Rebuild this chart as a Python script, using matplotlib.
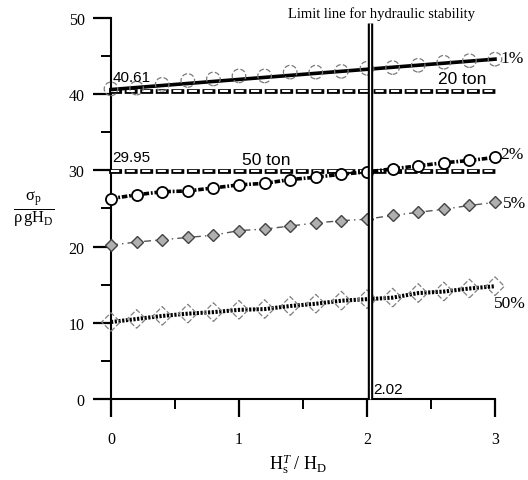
import matplotlib
matplotlib.use("Agg")
import matplotlib.pyplot as plt
import numpy as np

# ---------------- data ----------------
x_pts = [0.0, 0.2, 0.4, 0.6, 0.8, 1.0, 1.2, 1.4, 1.6, 1.8, 2.0, 2.2, 2.4, 2.6, 2.8, 3.0]
p1_pts = [40.7, 40.8, 41.3, 41.8, 42.0, 42.4, 42.4, 42.9, 42.9, 43.0, 43.4, 43.5, 43.8, 44.2, 44.4, 44.6]
p1_line_x = [0.0, 3.0]
p1_line_y = [40.61, 44.6]
p2_pts = [26.3, 26.8, 27.2, 27.3, 27.7, 28.1, 28.3, 28.8, 29.1, 29.5, 29.8, 30.2, 30.6, 31.0, 31.3, 31.7]
p5_pts = [20.2, 20.6, 20.9, 21.2, 21.5, 22.1, 22.3, 22.7, 23.1, 23.4, 23.6, 24.1, 24.5, 24.9, 25.4, 25.8]
p50_pts = [10.1, 10.5, 10.9, 11.2, 11.4, 11.7, 11.8, 12.2, 12.5, 12.9, 13.1, 13.3, 13.9, 14.1, 14.5, 14.8]
ton_x = [0.0, 3.0]
ton20_y = [40.45, 40.45]
ton50_y = [29.95, 29.95]
limit_x = [2.02, 2.02]
limit_y = [0.0, 49.3]

xticks = [0, 1, 2, 3]
xminor = [0.5, 1.5, 2.5]
yticks = [0, 10, 20, 30, 40, 50]
yminor = [5, 15, 25, 35, 45]

SERIF = "Liberation Serif"
SANS = "Liberation Sans"
plt.rcParams["mathtext.fontset"] = "custom"
plt.rcParams["mathtext.rm"] = SERIF
plt.rcParams["mathtext.it"] = SERIF + ":italic"
plt.rcParams["mathtext.bf"] = SERIF + ":bold"
plt.rcParams["lines.scale_dashes"] = False

fig = plt.figure(figsize=(5.28, 4.81), dpi=100)
ax = fig.add_axes([0.2102, 0.1684, 0.7273, 0.7921])
ax.set_xlim(0, 3)
ax.set_ylim(0, 50)

# tonnage dashed (outlined dashes)
dash = (0, (5.9, 5.3))
for yy in (ton20_y, ton50_y):
    ax.plot(ton_x, yy, color="black", lw=3.4, linestyle=dash,
            dash_capstyle="projecting", clip_on=False, zorder=3)
    ax.plot(ton_x, yy, color="white", lw=1.5, linestyle=dash,
            dash_capstyle="butt", clip_on=False, zorder=3.1)

# 1% line + dashed circles
ax.plot(p1_line_x, p1_line_y, color="black", lw=2.6, zorder=4, clip_on=False)
ax.scatter(x_pts, p1_pts, s=95, facecolors="none", edgecolors="#7a7a7a",
           linewidths=0.9, linestyles="--", zorder=5, clip_on=False)

# 2% line
ax.plot(x_pts, p2_pts, color="black", lw=2.6, linestyle=(0, (4.0, 1.3, 1.3, 1.3)),
        marker="o", ms=8, mfc="white", mec="black", mew=1.3,
        zorder=4, clip_on=False)

# 5% line
ax.plot(x_pts, p5_pts, color="#555555", lw=1.0, linestyle=(0, (5, 3, 1, 3)),
        marker="D", ms=6.5, mfc="#b0b0b0", mec="#444444", mew=1.0,
        zorder=4, clip_on=False)

# 50% line
ax.plot(x_pts, p50_pts, color="black", lw=2.9, linestyle=(0, (1.6, 1.1)),
        zorder=4, clip_on=False)
ax.scatter(x_pts, p50_pts, s=90, marker="D", facecolors="none", edgecolors="#808080",
           linewidths=0.9, linestyles="--", zorder=5, clip_on=False)

# limit line (double line)
ax.plot(limit_x, limit_y, color="black", lw=3.9, zorder=6, clip_on=False,
        solid_capstyle="butt")
ax.plot(limit_x, limit_y, color="white", lw=0.9, zorder=6.1, clip_on=False,
        solid_capstyle="butt")

# axes styling
for s in ("top", "right"):
    ax.spines[s].set_visible(False)
for s in ("left", "bottom"):
    ax.spines[s].set_linewidth(1.5)
ax.set_xticks(xticks)
ax.set_xticks(xminor, minor=True)
ax.set_yticks(yticks)
ax.set_yticks(yminor, minor=True)
ax.tick_params(which="major", direction="out", length=13, width=1.6)
ax.tick_params(which="minor", direction="out", length=7.5, width=1.4)
ax.tick_params(axis="x", which="major", pad=10)
ax.tick_params(axis="y", which="major", pad=6)
for lab in ax.get_xticklabels() + ax.get_yticklabels():
    lab.set_fontfamily(SERIF)
    lab.set_fontsize(11.5)

# annotations
ax.text(0.01, 42.3, "40.61", family=SANS, fontsize=11, va="center", ha="left", zorder=7)
ax.text(0.01, 31.8, "29.95", family=SANS, fontsize=11, va="center", ha="left", zorder=7)
ax.text(1.21, 31.4, "50 ton", family=SANS, fontsize=12.5, va="center", ha="center", zorder=7)
ax.text(2.74, 42.0, "20 ton", family=SANS, fontsize=12.5, va="center", ha="center", zorder=7)
ax.text(2.05, 1.3, "2.02", family=SANS, fontsize=11, va="center", ha="left", zorder=7)
ax.text(3.04, 44.7, "1%", family=SERIF, fontsize=12.5, va="center", ha="left")
ax.text(3.04, 32.2, "2%", family=SERIF, fontsize=12.5, va="center", ha="left")
ax.text(3.06, 25.7, "5%", family=SERIF, fontsize=12.5, va="center", ha="left")
ax.text(2.99, 12.6, "50%", family=SERIF, fontsize=12.5, va="center", ha="left")
ax.text(2.11, 50.6, "Limit line for hydraulic stability", family=SERIF, fontsize=10.5,
        va="center", ha="center", clip_on=False)

fig.text(0.064, 0.563, r"$\frac{\mathrm{\sigma_p}}{\mathrm{\rho\,g H_D}}$",
         fontsize=17, ha="center", va="center")
fig.text(0.565, 0.035, r"$\mathrm{H_s^{\mathit{T}}\ /\ H_D}$",
         fontsize=13, ha="center", va="center")

fig.savefig("out.png", dpi=100)
